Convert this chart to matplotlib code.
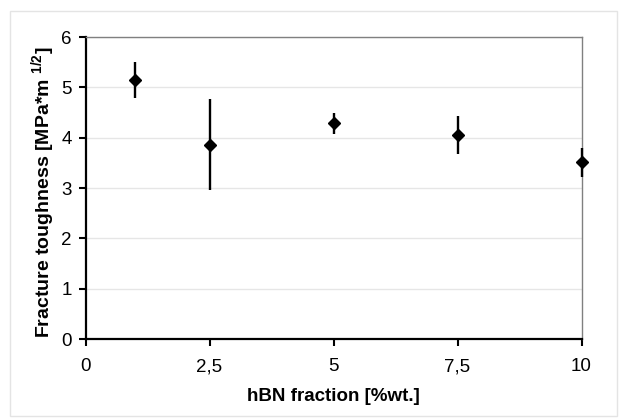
import matplotlib
matplotlib.use("Agg")
import matplotlib.pyplot as plt
from matplotlib.patches import Rectangle

plt.rcParams['font.family'] = ['Liberation Sans', 'DejaVu Sans']
plt.rcParams['mathtext.default'] = 'regular'

x = [1, 2.5, 5, 7.5, 10]
y = [5.15, 3.85, 4.30, 4.06, 3.51]
err_low = [0.37, 0.88, 0.22, 0.38, 0.30]
err_high = [0.35, 0.91, 0.20, 0.38, 0.28]
xticks = [0, 2.5, 5, 7.5, 10]
xticklabels = ["0", "2,5", "5", "7,5", "10"]
yticks = [0, 1, 2, 3, 4, 5, 6]

fig = plt.figure(figsize=(6.19, 4.19), dpi=100)
fig.patches.append(Rectangle((10/619, 3/419), 607/619, 405/419, transform=fig.transFigure,
                             fill=False, edgecolor='#e4e4e4', linewidth=1))
ax = fig.add_axes([85.5/619, 80/419, 496/619, 302/419])

ax.errorbar(x, y, yerr=[err_low, err_high], fmt='D', color='black', ms=6.6,
            elinewidth=1.7, capsize=0, zorder=3, clip_on=False)

ax.set_xlim(0, 10)
ax.set_ylim(0, 6)
ax.set_xticks(xticks)
ax.set_xticklabels(xticklabels)
ax.set_yticks(yticks)
ax.yaxis.grid(True, color='#e6e6e6', linewidth=1)
ax.set_axisbelow(True)

for s in ['left', 'bottom']:
    ax.spines[s].set_linewidth(1.6)
    ax.spines[s].set_color('black')
for s in ['top', 'right']:
    ax.spines[s].set_linewidth(1)
    ax.spines[s].set_color('#808080')

ax.tick_params(axis='both', direction='out', length=5, width=1.5, labelsize=13.5, color='black')
ax.tick_params(axis='x', pad=9)
ax.tick_params(axis='y', pad=5)

ax.set_xlabel("hBN fraction [%wt.]", fontsize=13.5, fontweight='bold', labelpad=9)
ax.set_ylabel("Fracture toughness [MPa*m $^{1/2}$]", fontsize=14, fontweight='bold')
ax.yaxis.set_label_coords(-0.058, 0.487)

fig.savefig("out.png", dpi=100)
